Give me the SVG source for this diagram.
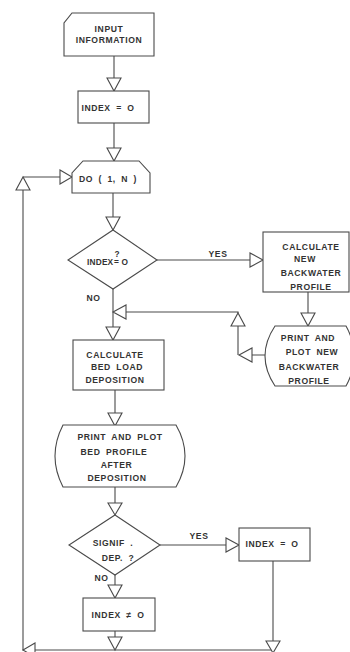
<svg xmlns="http://www.w3.org/2000/svg" width="350" height="652" viewBox="0 0 350 652">
<style>
.s{fill:#fff;stroke:#4a4a4a;stroke-width:1.1}
.c{fill:none;stroke:#4a4a4a;stroke-width:1.1}
.a{fill:#fff;stroke:#4a4a4a;stroke-width:1.1;stroke-linejoin:miter}
text{font-family:"Liberation Sans",Arial,sans-serif;font-size:8.6px;font-weight:bold;fill:#333;letter-spacing:0.6px;word-spacing:2.5px}
.m{text-anchor:middle}
</style>
<rect width="350" height="652" fill="#fff"/>
<g id="connectors">
<path class="c" d="M114,56V78 M114,123V148 M113,193V217 M157,260H250 M308,292V313 M265,355H252 M238,355V326 M238,313V312H126 M113,289V327 M115,390V413 M115,487V503 M160,545H226 M273,561V641 M115,575V585 M115,631V637 M273,650H23V190 M23,177H60"/>
<polygon class="a" points="107,78 121,78 114,91"/>
<polygon class="a" points="107,148 121,148 114,161"/>
<polygon class="a" points="106,217 120,217 113,230"/>
<polygon class="a" points="250,253 250,267 263,260"/>
<polygon class="a" points="301,313 315,313 308,326"/>
<polygon class="a" points="252,348 252,362 239,355"/>
<polygon class="a" points="231,326 245,326 238,313"/>
<polygon class="a" points="126,305 126,319 113,312"/>
<polygon class="a" points="106,327 120,327 113,340"/>
<polygon class="a" points="108,413 122,413 115,426"/>
<polygon class="a" points="108,503 122,503 115,515"/>
<polygon class="a" points="226,538 226,552 239,545"/>
<polygon class="a" points="266,641 280,641 273,653"/>
<polygon class="a" points="108,585 122,585 115,598"/>
<polygon class="a" points="108,637 122,637 115,650"/>
<polygon class="a" points="35,643 35,657 23,650"/>
<polygon class="a" points="16,190 30,190 23,177"/>
<polygon class="a" points="60,170 60,184 72,177"/>
<text x="218" y="256.5" class="m">YES</text>
<text x="93.5" y="301" class="m">NO</text>
<text x="199" y="539" class="m">YES</text>
<text x="101.5" y="581" class="m">NO</text>
</g>
<g id="input">
<path class="s" d="M72,13H154V56H64V23Z"/>
<text x="109" y="32" class="m">INPUT</text>
<text x="109" y="42.5" class="m">INFORMATION</text>
</g>
<g id="index0">
<rect class="s" x="78" y="91" width="71" height="32"/>
<text x="108" y="110.5" class="m">INDEX = O</text>
</g>
<g id="do">
<path class="s" d="M83,161H139L150,173V193H72V173Z"/>
<text x="108" y="181.5" class="m">DO ( 1, N )</text>
</g>
<g id="decision1">
<polygon class="s" points="113,230 157,260 113,289 68,260"/>
<text y="264.5" style="font-size:8.3px;letter-spacing:0.2px"><tspan x="87">INDEX</tspan><tspan x="114.5" dy="-8">?</tspan><tspan x="114" dy="8">=</tspan><tspan x="121.5">O</tspan></text>
</g>
<g id="calcBackwater">
<rect class="s" x="263" y="232" width="86" height="60"/>
<text x="311" y="249.5" class="m">CALCULATE</text>
<text x="305" y="262" class="m">NEW</text>
<text x="311" y="276" class="m">BACKWATER</text>
<text x="311" y="290" class="m">PROFILE</text>
</g>
<g id="printBackwater">
<path class="s" d="M275,326H346Q354,340 354,356Q354,372 346,386H275Q255,356 275,326Z"/>
<text x="308" y="340.5" class="m">PRINT AND</text>
<text x="312" y="355" class="m">PLOT NEW</text>
<text x="309" y="369.5" class="m">BACKWATER</text>
<text x="309" y="383.5" class="m">PROFILE</text>
</g>
<g id="calcBedLoad">
<rect class="s" x="73" y="340" width="91" height="50"/>
<text x="115" y="357.5" class="m">CALCULATE</text>
<text x="117" y="369.5" class="m">BED LOAD</text>
<text x="115" y="382.5" class="m">DEPOSITION</text>
</g>
<g id="printBed">
<path class="s" d="M63,425H176Q194,456 176,487H63Q47,456 63,425Z"/>
<text x="120" y="439.5" class="m">PRINT AND PLOT</text>
<text x="114" y="455" class="m">BED PROFILE</text>
<text x="116.5" y="468" class="m">AFTER</text>
<text x="117" y="481" class="m">DEPOSITION</text>
</g>
<g id="decision2">
<polygon class="s" points="115,515 160,545 115,575 69,545"/>
<text x="113" y="546" class="m">SIGNIF .</text>
<text x="118" y="560.5" class="m">DEP. ?</text>
</g>
<g id="indexYes">
<rect class="s" x="239" y="528" width="71" height="33"/>
<text x="272" y="547" class="m">INDEX = O</text>
</g>
<g id="indexNo">
<rect class="s" x="83" y="598" width="72" height="33"/>
<text x="118" y="617.5" class="m">INDEX ≠ O</text>
</g>
</svg>
